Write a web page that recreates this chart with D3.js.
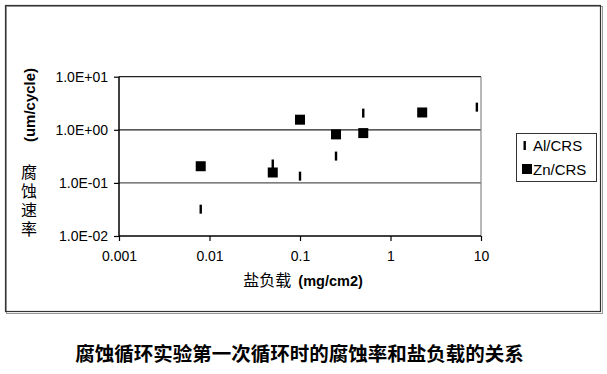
<!DOCTYPE html>
<html>
<head>
<meta charset="utf-8">
<script src="https://cdn.jsdelivr.net/npm/d3@7"></script>
<style>
  body { margin: 0; background: #fff; }
  svg { display: block; }
  .latin { font-family: Arial, "Liberation Sans", sans-serif; }
  .cjk { font-family: "Noto Sans CJK SC", sans-serif; }
</style>
</head>
<body>
<div id="chart"></div>
<script>
// salt loading (mg/cm2) and corrosion rate (um/cycle)
var alX = [0.008, 0.05, 0.1, 0.25, 0.5, 9]
var alY = [0.032, 0.227, 0.134, 0.32, 2.06, 2.67]
var znX = [0.008, 0.05, 0.1, 0.25, 0.5, 2.24]
var znY = [0.206, 0.157, 1.55, 0.82, 0.867, 2.12]

var xTicks = [0.001, 0.01, 0.1, 1, 10]
var xTickLabels = ['0.001', '0.01', '0.1', '1', '10']
var yTicks = [0.01, 0.1, 1, 10]
var yTickLabels = ['1.0E-02', '1.0E-01', '1.0E+00', '1.0E+01']
var seriesNames = ['Al/CRS', 'Zn/CRS']

var W = 607, H = 374
var plot = { left: 119, right: 481, top: 76.7, bottom: 236 }

var svg = d3.select('#chart').append('svg')
  .attr('width', W)
  .attr('height', H)

svg.append('rect').attr('width', W).attr('height', H).attr('fill', '#fff')

// outer chart frame (with a faint shadow)
svg.append('rect')
  .attr('x', 6.5).attr('y', 6.5).attr('width', 596).attr('height', 307)
  .attr('fill', 'none').attr('stroke', '#999').attr('stroke-width', 1)
svg.append('rect')
  .attr('x', 5.5).attr('y', 5.5).attr('width', 595).attr('height', 306)
  .attr('fill', 'none').attr('stroke', '#333').attr('stroke-width', 1.2)

var x = d3.scaleLog().domain([0.001, 10]).range([plot.left, plot.right])
var y = d3.scaleLog().domain([0.01, 10]).range([plot.bottom, plot.top])

// gridlines
svg.append('g').selectAll('line')
  .data([0.1, 1])
  .join('line')
  .attr('x1', plot.left).attr('x2', plot.right)
  .attr('y1', d => y(d)).attr('y2', d => y(d))
  .attr('stroke', d => d === 1 ? '#222' : '#555')
  .attr('stroke-width', 1.2)

// top and right border of plot area
svg.append('line')
  .attr('x1', plot.left).attr('x2', plot.right)
  .attr('y1', y(10)).attr('y2', y(10))
  .attr('stroke', '#222').attr('stroke-width', 1.2)
svg.append('line')
  .attr('x1', plot.right).attr('x2', plot.right)
  .attr('y1', plot.top).attr('y2', plot.bottom)
  .attr('stroke', '#888').attr('stroke-width', 1.2)

// axes
var xAxis = d3.axisBottom(x)
  .tickValues(xTicks)
  .tickSize(5)
  .tickFormat((d, i) => xTickLabels[i])
var yAxis = d3.axisLeft(y)
  .tickValues(yTicks)
  .tickSize(5)
  .tickFormat((d, i) => yTickLabels[i])

var gx = svg.append('g')
  .attr('transform', 'translate(0,' + plot.bottom + ')')
  .call(xAxis)
var gy = svg.append('g')
  .attr('transform', 'translate(' + plot.left + ',0)')
  .call(yAxis)

;[gx, gy].forEach(g => {
  g.select('.domain').attr('stroke', '#000').attr('stroke-width', 1.5)
  g.selectAll('.tick line').attr('stroke', '#000').attr('stroke-width', 1.2)
  g.selectAll('.tick text')
    .attr('class', 'latin')
    .attr('fill', '#000')
    .style('font-size', '14px')
})
gx.select('.domain').attr('d', 'M' + plot.left + ',0H' + plot.right)
gy.select('.domain').attr('d', 'M0,' + plot.top + 'V' + plot.bottom)
gx.selectAll('.tick text').attr('dy', '1em').attr('y', 11)
gy.selectAll('.tick text').attr('x', -11)

// Al/CRS: thin vertical dashes
svg.append('g').selectAll('rect')
  .data(alX.map((d, i) => [d, alY[i]]))
  .join('rect')
  .attr('x', d => x(d[0]) - 1.2)
  .attr('y', d => y(d[1]) - 4.5)
  .attr('width', 2.4)
  .attr('height', 9)
  .attr('fill', '#000')

// Zn/CRS: filled squares
svg.append('g').selectAll('rect')
  .data(znX.map((d, i) => [d, znY[i]]))
  .join('rect')
  .attr('x', d => x(d[0]) - 5)
  .attr('y', d => y(d[1]) - 5)
  .attr('width', 10)
  .attr('height', 10)
  .attr('fill', '#000')

// y title
svg.append('text')
  .attr('class', 'latin')
  .attr('transform', 'translate(35,105) rotate(-90)')
  .attr('text-anchor', 'middle')
  .style('font-size', '15px')
  .style('font-weight', 'bold')
  .text('(um/cycle)')

// stacked CJK part of the y title, written vertically
svg.append('text')
  .attr('class', 'cjk')
  .attr('x', 29)
  .attr('y', 164)
  .style('writing-mode', 'vertical-rl')
  .style('letter-spacing', '3px')
  .style('font-size', '16px')
  .text('腐蚀速率')

// x title
var xt = svg.append('text')
  .attr('x', 303)
  .attr('y', 286)
  .attr('text-anchor', 'middle')
  .style('white-space', 'pre')
xt.append('tspan').attr('class', 'cjk').style('font-size', '16px').text('盐负载  ')
xt.append('tspan').attr('class', 'latin').style('font-size', '14.5px')
  .style('font-weight', 'bold').text('(mg/cm2)')

// legend
var lg = svg.append('g')
lg.append('rect')
  .attr('x', 516.5).attr('y', 133.5).attr('width', 80).attr('height', 48)
  .attr('fill', '#fff').attr('stroke', '#333').attr('stroke-width', 1)
lg.append('rect')
  .attr('x', 523.5).attr('y', 141).attr('width', 2.4).attr('height', 9).attr('fill', '#000')
lg.append('rect')
  .attr('x', 522).attr('y', 164).attr('width', 10).attr('height', 10).attr('fill', '#000')
lg.selectAll('text.lab')
  .data(seriesNames)
  .join('text')
  .attr('class', 'latin')
  .attr('x', 533)
  .attr('y', (d, i) => 145.5 + i * 24)
  .attr('dy', '0.35em')
  .style('font-size', '15px')
  .text(d => d)

// caption below the chart
svg.append('text')
  .attr('class', 'cjk')
  .attr('x', 299.5)
  .attr('y', 354)
  .attr('dy', '0.36em')
  .attr('text-anchor', 'middle')
  .style('font-size', '19.5px')
  .style('font-weight', 'bold')
  .text('腐蚀循环实验第一次循环时的腐蚀率和盐负载的关系')
</script>
</body>
</html>
